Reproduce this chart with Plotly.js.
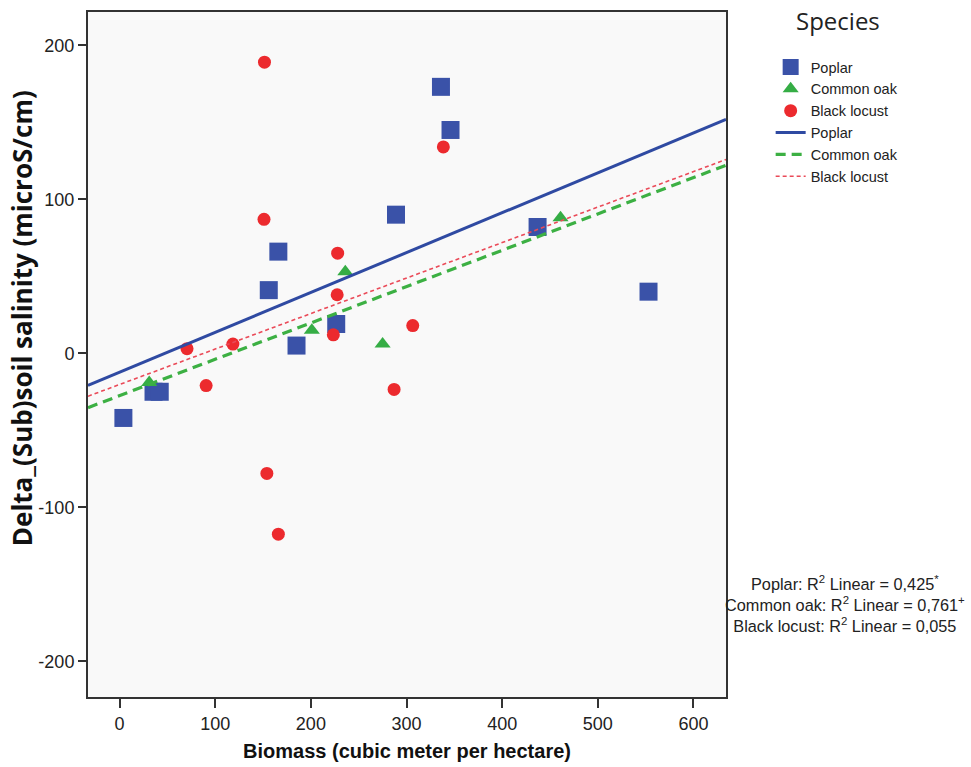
<!DOCTYPE html>
<html>
<head>
<meta charset="utf-8">
<script src="https://cdn.plot.ly/plotly-3.0.1.min.js"></script>
<style>html,body{margin:0;padding:0;background:#fff;}#chart{width:971px;height:767px;}</style>
</head>
<body>
<div id="chart"></div>
<script>
// ---- Data ----
const poplarX = [4, 35.5, 42, 156, 166, 185, 226.5, 289, 336, 346, 437, 553];
const poplarY = [-42, -25, -25, 41, 66, 5, 19, 90, 173, 145, 82, 40];

const oakX = [31, 201, 236, 275, 461];
const oakY = [-19, 15, 53, 6, 88];

const locustX = [151.5, 151, 228, 227.5, 223.5, 118.5, 70.5, 338.5, 306.5, 90.5, 287, 154, 166];
const locustY = [189, 87, 65, 38, 12, 6, 3, 134, 18, -21, -23.5, -78, -117.5];

// fitted line end points read at the plot edges
const fitX = [-33, 634];
const poplarFit = [-20.8, 151.8];
const oakFit = [-35.3, 122.1];
const locustFit = [-27.9, 125.8];

const xTicks = [0, 100, 200, 300, 400, 500, 600];
const yTicks = [-200, -100, 0, 100, 200];

const r2Lines = [
  "Poplar: R<sup>2</sup> Linear = 0,425<sup>*</sup>",
  "Common oak: R<sup>2</sup> Linear = 0,761<sup>+</sup>",
  "Black locust: R<sup>2</sup> Linear = 0,055"
];

const blue = '#3a52a8', green = '#35ad45', red = '#ec2a2e';

const traces = [
  {x: poplarX, y: poplarY, name: 'Poplar', type: 'scatter', mode: 'markers',
   marker: {symbol: 'square', size: 18, color: blue}},
  {x: oakX, y: oakY, name: 'Common oak', type: 'scatter', mode: 'markers',
   marker: {symbol: 'triangle-up', size: 14, color: green}},
  {x: locustX, y: locustY, name: 'Black locust', type: 'scatter', mode: 'markers',
   marker: {symbol: 'circle', size: 13, color: red}},
  {x: fitX, y: poplarFit, name: 'Poplar', type: 'scatter', mode: 'lines',
   line: {color: '#2f4aa2', width: 3}},
  {x: fitX, y: oakFit, name: 'Common oak', type: 'scatter', mode: 'lines',
   line: {color: '#3cb043', width: 3.2, dash: '10px,6px'}},
  {x: fitX, y: locustFit, name: 'Black locust', type: 'scatter', mode: 'lines',
   line: {color: '#ea4a58', width: 1.6, dash: '4px,3px'}}
];

const tickFont = {family: '"Liberation Sans Narrow", "Arial Narrow", "Liberation Sans", Arial, sans-serif', size: 18, color: '#222'};

const layout = {
  width: 971, height: 767,
  margin: {l: 88, r: 245, t: 12, b: 70},
  paper_bgcolor: '#ffffff',
  plot_bgcolor: '#f9f9f9',
  showlegend: true,
  legend: {
    x: 1.07, y: 0.943, xanchor: 'left', yanchor: 'top',
    font: {family: '"Liberation Sans", Arial, sans-serif', size: 14.5, color: '#222'},
    bgcolor: 'rgba(0,0,0,0)', tracegroupgap: 0
  },
  xaxis: {
    range: [-33, 634], tickvals: xTicks, ticktext: xTicks.map(String),
    showgrid: false, zeroline: false,
    showline: true, mirror: true, linecolor: '#333', linewidth: 2,
    ticks: 'outside', ticklen: 9, tickwidth: 2, tickcolor: '#333',
    tickfont: tickFont,
    title: {text: 'Biomass (cubic meter per hectare)', standoff: 11,
            font: {family: '"Liberation Sans", Arial, sans-serif', size: 20, color: '#111', weight: 'bold'}}
  },
  yaxis: {
    range: [-223.2, 221.6], tickvals: yTicks, ticktext: yTicks.map(String),
    showgrid: false, zeroline: false,
    showline: true, mirror: true, linecolor: '#333', linewidth: 2,
    ticks: 'outside', ticklen: 8, tickwidth: 2, tickcolor: '#333',
    tickfont: tickFont
  },
  annotations: [
    {text: 'Delta_(Sub)soil salinity (microS/cm)', xref: 'paper', yref: 'paper',
     x: -0.1034, y: 0.553, xanchor: 'center', yanchor: 'middle', textangle: -90, showarrow: false,
     font: {family: '"Open Sans", "Noto Sans", sans-serif', size: 26, color: '#111', weight: 'bold'}},
    {text: 'Species', xref: 'paper', yref: 'paper', x: 1.1755, y: 0.988,
     xanchor: 'center', yanchor: 'middle', showarrow: false,
     font: {family: '"Open Sans", "Noto Sans", sans-serif', size: 24, color: '#222'}},
    {text: r2Lines.join('<br>'), xref: 'paper', yref: 'paper', x: 1.1865, y: 0.1358,
     xanchor: 'center', yanchor: 'middle', align: 'center', showarrow: false,
     font: {family: '"Liberation Sans", Arial, sans-serif', size: 16.3, color: '#222'}}
  ]
};

Plotly.newPlot('chart', traces, layout, {displayModeBar: false, staticPlot: true});
</script>
</body>
</html>
